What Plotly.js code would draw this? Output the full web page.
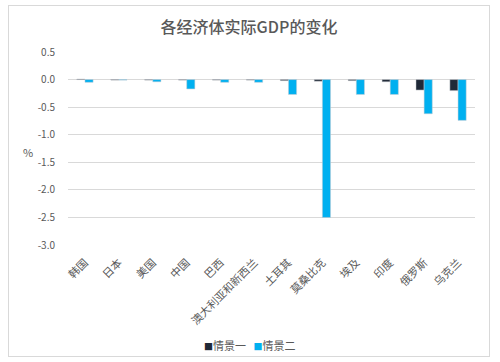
<!DOCTYPE html>
<html><head><meta charset="utf-8">
<script src="https://cdn.plot.ly/plotly-3.0.1.min.js"></script>
<style>
html,body{margin:0;padding:0;background:#fff;}
#box{position:absolute;left:8px;top:5px;width:480px;height:350px;border:1px solid #d9d9d9;}
#chart{width:480px;height:350px;}
</style></head>
<body><div id="box"><div id="chart"></div></div>
<script>
const categories = ["韩国","日本","美国","中国","巴西","澳大利亚和新西兰","土耳其","莫桑比克","埃及","印度","俄罗斯","乌克兰"];
const seriesNames = ["情景一","情景二"];
const scenario1 = [0.01,-0.01,-0.01,-0.01,-0.01,-0.01,-0.02,-0.03,-0.02,-0.04,-0.19,-0.20];
const scenario2 = [-0.05,-0.01,-0.04,-0.17,-0.05,-0.05,-0.27,-2.50,-0.27,-0.27,-0.62,-0.74];
const yTicks = [0.5,0,-0.5,-1,-1.5,-2,-2.5,-3];
const yTickText = ["0.5","0.0","-0.5","-1.0","-1.5","-2.0","-2.5","-3.0"];
const colors = ["#1F2937","#00B0F0"];
const font = "'Noto Sans CJK SC', 'Noto Sans', sans-serif";
const data = [
  {type:"bar", name:seriesNames[0], x:categories, y:scenario1, marker:{color:colors[0], line:{color:"#c8ccd2", width:0.5}}},
  {type:"bar", name:seriesNames[1], x:categories, y:scenario2, marker:{color:colors[1], line:{color:"#c8ccd2", width:0.5}}}
];
const legendText = seriesNames.map((n,i)=>"<span style='color:"+colors[i]+";font-size:9px'>■</span>"+n).join("   ");
const layout = {
  width:480, height:350,
  margin:{l:59, r:14, t:46, b:111},
  paper_bgcolor:"#fff", plot_bgcolor:"#fff",
  font:{family:font, color:"#595959", size:10},
  title:{text:"各经济体实际GDP的变化", font:{family:font, size:16, color:"#595959", weight:500}, x:0.5, xanchor:"center", y:0.94, yanchor:"middle"},
  barmode:"group", bargap:0.52, bargroupgap:0,
  showlegend:false,
  xaxis:{tickangle:-45, showgrid:false, showline:false, ticks:"", tickfont:{size:11, color:"#595959"}, ticklabelstandoff:8, automargin:false},
  yaxis:{range:[-3,0.5], tickvals:yTicks, ticktext:yTickText, showgrid:true, gridcolor:"#d9d9d9", gridwidth:1, zeroline:true, zerolinecolor:"#d9d9d9", zerolinewidth:1, ticks:"", tickfont:{size:10, color:"#595959"}, ticklabelstandoff:12, automargin:false},
  annotations:[
    {text:"%", xref:"paper", yref:"paper", x:-0.115, y:0.48, showarrow:false, font:{size:11, color:"#595959"}},
    {text:legendText, xref:"paper", yref:"paper", x:0.445, xanchor:"center", y:-0.518, yanchor:"middle", showarrow:false, font:{size:11, color:"#595959"}}
  ]
};
Plotly.newPlot("chart", data, layout, {displayModeBar:false, staticPlot:true});
</script></body></html>
